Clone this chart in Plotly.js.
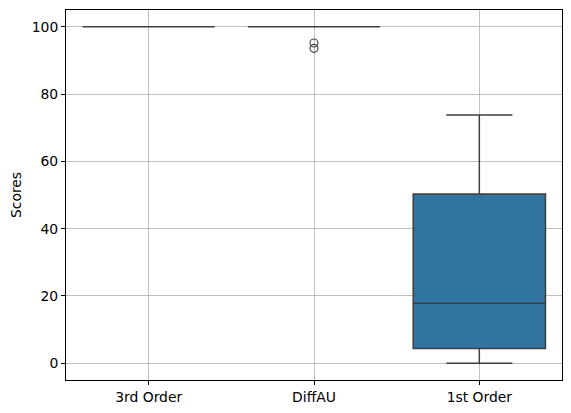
<!DOCTYPE html>
<html>
<head>
<meta charset="utf-8">
<script src="https://cdn.plot.ly/plotly-3.0.1.min.js"></script>
<style>
  html, body { margin: 0; padding: 0; background: #fff; }
  #myDiv { width: 571px; height: 413px; }
</style>
</head>
<body>
<div id="myDiv"></div>
<script>
// box statistics
var methods = ['3rd Order', 'DiffAU', '1st Order'];
var q1 = [100, 100, 4.4];
var median = [100, 100, 17.8];
var q3 = [100, 100, 50.3];
var lowerWhisker = [100, 100, 0];
var upperWhisker = [100, 100, 73.8];

// points drawn beyond the whiskers
var outlierMethods = ['DiffAU', 'DiffAU'];
var outlierScores = [95.2, 93.6];

var yTicks = [0, 20, 40, 60, 80, 100];

var edgeColor = '#3f3f3f';

var boxes = {
  type: 'box',
  x: methods,
  q1: q1,
  median: median,
  q3: q3,
  lowerfence: lowerWhisker,
  upperfence: upperWhisker,
  width: 0.8,
  whiskerwidth: 0.5,
  fillcolor: '#3274a1',
  line: {color: edgeColor, width: 1.5},
  boxpoints: false,
  hoverinfo: 'skip',
  showlegend: false
};

var outliers = {
  type: 'scatter',
  mode: 'markers',
  x: outlierMethods,
  y: outlierScores,
  marker: {
    symbol: 'circle-open',
    size: 8,
    color: edgeColor,
    line: {width: 1.1, color: edgeColor}
  },
  hoverinfo: 'skip',
  showlegend: false
};

var data = [boxes, outliers];

var layout = {
  width: 571,
  height: 413,
  margin: {l: 66, r: 9, t: 10, b: 33},
  paper_bgcolor: '#ffffff',
  plot_bgcolor: '#ffffff',
  font: {family: 'DejaVu Sans, sans-serif', size: 13.9, color: '#000000'},
  showlegend: false,
  xaxis: {
    type: 'category',
    categoryorder: 'array',
    categoryarray: methods,
    range: [-0.5, 2.5],
    showgrid: true,
    gridcolor: '#b0b0b0',
    gridwidth: 0.8,
    showline: true,
    mirror: true,
    linecolor: '#000000',
    linewidth: 1,
    ticks: 'outside',
    ticklen: 4,
    tickwidth: 1,
    tickcolor: '#000000',
    zeroline: false
  },
  yaxis: {
    title: {text: 'Scores', standoff: 6, font: {size: 13.9}},
    range: [-5, 105],
    tickvals: yTicks,
    showgrid: true,
    gridcolor: '#b0b0b0',
    gridwidth: 0.8,
    showline: true,
    mirror: true,
    linecolor: '#000000',
    linewidth: 1,
    ticks: 'outside',
    ticklen: 4,
    tickwidth: 1,
    tickcolor: '#000000',
    zeroline: false
  }
};

Plotly.newPlot('myDiv', data, layout, {displayModeBar: false, staticPlot: true});
</script>
</body>
</html>
